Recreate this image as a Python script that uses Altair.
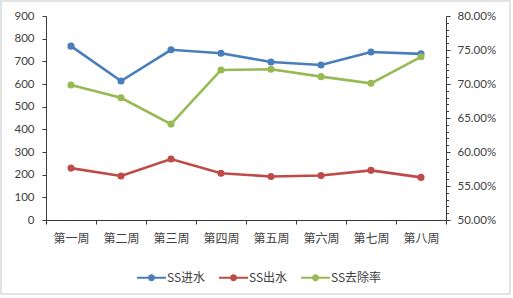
import altair as alt
import pandas as pd

weeks = ["第一周", "第二周", "第三周", "第四周", "第五周", "第六周", "第七周", "第八周"]
ss_in = [767, 613, 751, 736, 697, 684, 741, 733]
ss_out = [229, 194, 269, 206, 192, 196, 219, 188]
ss_rate = [0.6985, 0.6798, 0.6410, 0.7206, 0.7216, 0.7108, 0.7010, 0.7400]
series_names = ["SS进水", "SS出水", "SS去除率"]
series_colors = ["#4A7EBB", "#BE4B48", "#98B954"]

left_df = pd.DataFrame(
    {"week": weeks * 2,
     "value": ss_in + ss_out,
     "series": [series_names[0]] * len(weeks) + [series_names[1]] * len(weeks),
     "order": list(range(len(weeks))) * 2}
)
right_df = pd.DataFrame(
    {"week": weeks, "value": ss_rate, "series": [series_names[2]] * len(weeks),
     "order": list(range(len(weeks)))}
)

FONT_NUM = "Lato"
FONT_CJK = "Noto Sans CJK SC"
AXIS_COLOR = "#3a3a3a"
TEXT_COLOR = "#404040"

legend_shape = ("M-1,-0.075H-0.22V0.075H-1Z M0.22,-0.075H1V0.075H0.22Z "
                "M0.24,0A0.24,0.24 0 1,1 -0.24,0A0.24,0.24 0 1,1 0.24,0Z")

x_enc = alt.X(
    "week:N", sort=weeks, title=None,
    scale=alt.Scale(type="band", paddingInner=0, paddingOuter=0),
    axis=alt.Axis(tickBand="extent", labelAngle=0, labelFont=FONT_CJK, labelFontSize=12,
                  labelColor=TEXT_COLOR, tickSize=4, labelPadding=9,
                  domainColor=AXIS_COLOR, tickColor=AXIS_COLOR, grid=False),
)

color_enc = alt.Color(
    "series:N",
    scale=alt.Scale(domain=series_names, range=series_colors),
    legend=alt.Legend(title=None, orient="none", direction="horizontal",
                      legendX=91, legendY=247, symbolType=legend_shape,
                      symbolSize=841, symbolStrokeWidth=0, symbolOpacity=1,
                      labelFont=FONT_CJK, labelFontSize=12, labelColor=TEXT_COLOR,
                      columnPadding=13, labelOffset=1),
)

left_line = alt.Chart(left_df).mark_line(
    strokeWidth=2.6, point=alt.OverlayMarkDef(size=50, filled=True, opacity=1)
).encode(
    x=x_enc,
    y=alt.Y("value:Q", title=None,
            scale=alt.Scale(domain=[0, 900], nice=False, zero=True),
            axis=alt.Axis(values=list(range(0, 901, 100)), orient="left", grid=False,
                          labelFont=FONT_NUM, labelFontSize=11.5, labelColor=TEXT_COLOR,
                          tickSize=4, labelPadding=8,
                          domainColor=AXIS_COLOR, tickColor=AXIS_COLOR)),
    color=color_enc,
    order="order:Q",
    detail="series:N",
)

rate_ticks = [round(0.50 + i * 0.01, 2) for i in range(31)]

right_line = alt.Chart(right_df).mark_line(
    strokeWidth=2.6, point=alt.OverlayMarkDef(size=50, filled=True, opacity=1)
).encode(
    x=x_enc,
    y=alt.Y("value:Q", title=None,
            scale=alt.Scale(domain=[0.5, 0.8], nice=False, zero=False),
            axis=alt.Axis(values=rate_ticks, orient="right", grid=False,
                          format=".2%",
                          labelExpr="round(datum.value*100) % 5 == 0 ? datum.label : ''",
                          labelFont=FONT_NUM, labelFontSize=11.5, labelColor=TEXT_COLOR,
                          tickSize={"condition": {"test": "round(datum.value*100) % 5 == 0", "value": 4}, "value": 2.5},
                          labelPadding=7,
                          domainColor=AXIS_COLOR, tickColor=AXIS_COLOR)),
    color=color_enc,
    order="order:Q",
)

frame = alt.Chart(pd.DataFrame({"k": [0]})).mark_rect(
    fill=None, stroke="#D9D9D9", strokeWidth=1.5
).encode(
    x=alt.value(-45), x2=alt.value(464), y=alt.value(-15), y2=alt.value(278)
)

chart = alt.layer(left_line, right_line, frame).resolve_scale(
    y="independent"
).properties(
    width=400, height=204,
    autosize=alt.AutoSizeParams(type="none"),
    padding={"left": 46, "top": 16, "right": 67, "bottom": 78},
    background="white",
).configure_view(stroke=None)

chart.save("out.html", embed_options={"renderer": "svg", "actions": False})
